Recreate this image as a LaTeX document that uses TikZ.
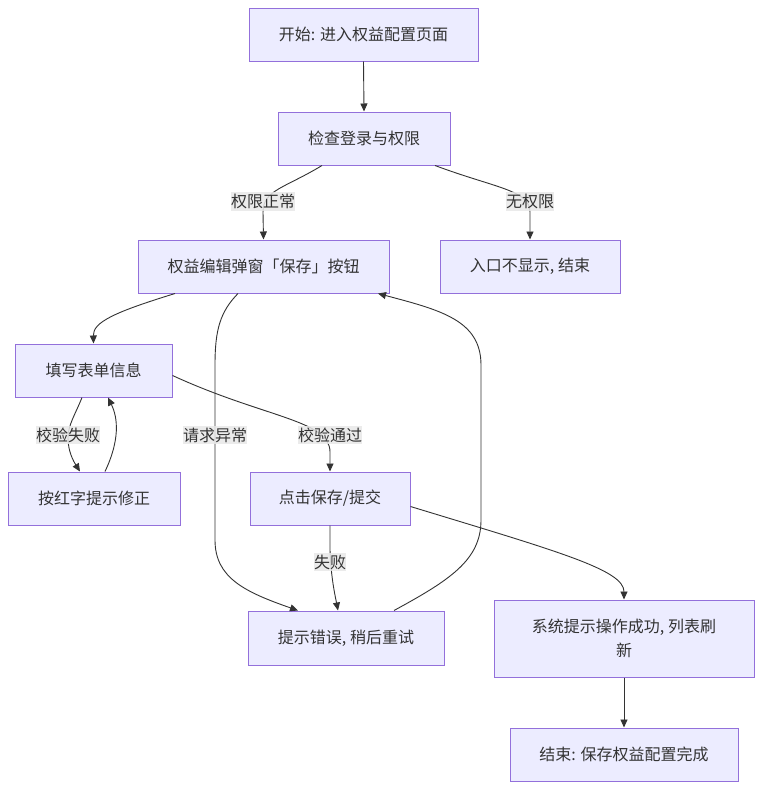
\documentclass[tikz,border=0pt]{standalone}
\usepackage{fontspec}
\setmainfont{Noto Sans CJK SC}
\usetikzlibrary{arrows.meta}
\definecolor{nodefill}{HTML}{ECECFF}
\definecolor{nodeline}{HTML}{9370DB}
\definecolor{edgecol}{HTML}{333333}
\definecolor{lblbg}{HTML}{E8E8E8}
\tikzset{
  box/.style={draw=nodeline, fill=nodefill, line width=1pt, inner sep=0pt,
    text=edgecol, font=\fontsize{16}{24}\selectfont, align=center},
  lbl/.style={fill=lblbg, fill opacity=0.85, text opacity=1, text=edgecol,
    inner xsep=0pt, inner ysep=2pt, font=\fontsize{16}{20}\selectfont},
  flow/.style={draw=edgecol, line width=0.9pt, -{Triangle[length=8pt,width=7pt]}}
}
\begin{document}
\begin{tikzpicture}[x=1pt,y=-1pt]
\useasboundingbox[fill=white] (0,0) rectangle (763,790);
% nodes
\node[box, minimum width=229, minimum height=53] (A) at (363.5,34.5) {开始: 进入权益配置页面};
\node[box, minimum width=172, minimum height=53] (B) at (364,138.5) {检查登录与权限};
\node[box, minimum width=251, minimum height=53] (C) at (263.5,266.5) {权益编辑弹窗「保存」按钮};
\node[box, minimum width=180, minimum height=53] (D) at (530,266.5) {入口不显示, 结束};
\node[box, minimum width=157, minimum height=53] (E) at (93.5,370.5) {填写表单信息};
\node[box, minimum width=172, minimum height=53] (F) at (94,498.5) {按红字提示修正};
\node[box, minimum width=160, minimum height=53] (G) at (330,498.5) {点击保存/提交};
\node[box, minimum width=196, minimum height=54] (H) at (346,638) {提示错误, 稍后重试};
\node[box, minimum width=260, minimum height=77] (I) at (624,638.5) {系统提示操作成功, 列表刷\\新};
\node[box, minimum width=228, minimum height=53] (J) at (624,754.5) {结束: 保存权益配置完成};
% edges
\draw[flow] (A.south) -- (B.north);
\draw[flow] ([xshift=-42pt]B.south) .. controls (285,188) and (263,190) .. (263,212) -- (C.north);
\draw[flow] ([xshift=71pt]B.south) .. controls (495,188) and (530,190) .. (530,212) -- (D.north);
\draw[flow] ([xshift=-88.5pt]C.south) .. controls (115,312) and (93,322) .. (E.north);
\draw[flow] ([xshift=-25.5pt]C.south) .. controls (220,312) and (215,330) .. (215,365) -- (215,540) .. controls (215,578) and (245,592) .. ([xshift=-48pt]H.north);
\draw[flow] ([xshift=48pt]H.north) .. controls (450,580) and (481,560) .. (481,520) -- (481,365) .. controls (481,320) and (440,310) .. ([xshift=114.5pt]C.south);
\draw[flow] ([xshift=-11.5pt]E.south) .. controls (75,415) and (68,425) .. (68,438) .. controls (68,452) and (74,462) .. ([xshift=-14pt]F.north);
\draw[flow] ([xshift=11pt]F.north) .. controls (120,440) and (118,418) .. ([xshift=14.5pt]E.south);
\draw[flow] ([yshift=-5pt]E.east) .. controls (265,418) and (330,420) .. (330,452) -- (G.north);
\draw[flow] (G.south) -- (330,550) .. controls (331,578) and (335,595) .. ([xshift=-8pt]H.north);
\draw[flow] ([yshift=-8pt]G.east) .. controls (560,552) and (624,570) .. (I.north);
\draw[flow] (I.south) -- (J.north);
% labels
\node[lbl] (l1) at (263,201.5) {权限正常};
\node[lbl] (l2) at (530,201.5) {无权限};
\node[lbl] (l3) at (215,435) {请求异常};
\node[lbl] (l4) at (68,435) {校验失败};
\node[lbl] (l5) at (330,435) {校验通过};
\node[lbl] (l6) at (330,562) {失败};
\end{tikzpicture}
\end{document}
